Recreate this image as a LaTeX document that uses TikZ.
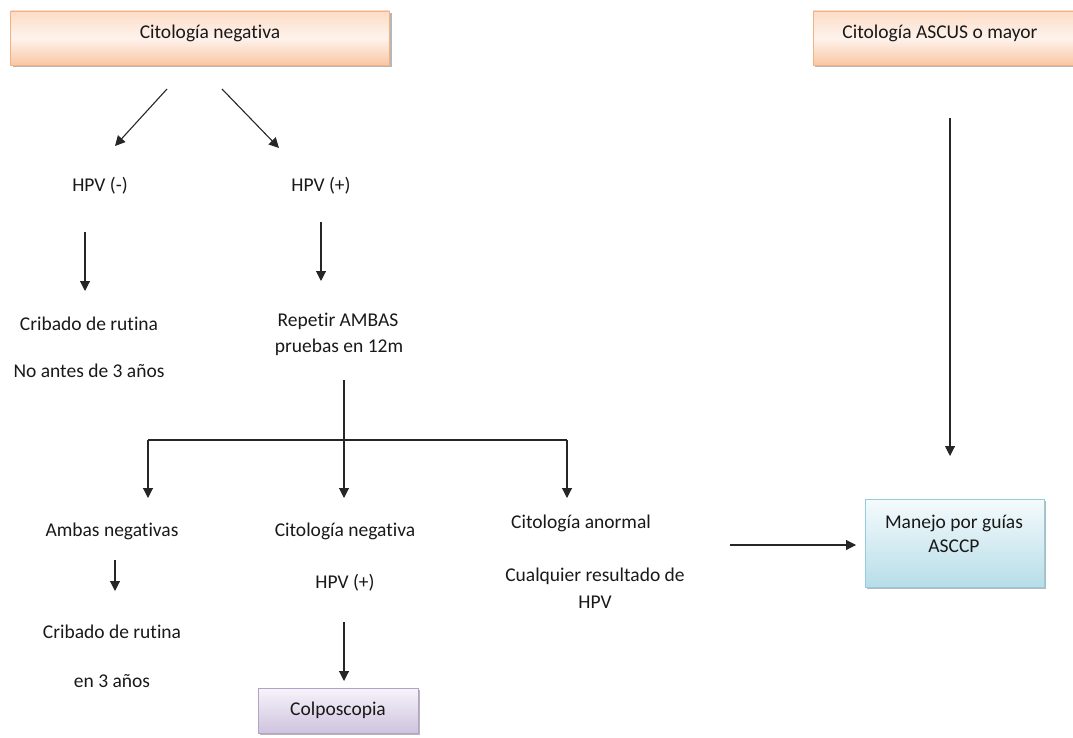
\documentclass[tikz,border=0pt]{standalone}
\usepackage{fontspec}
\setmainfont[Ligatures={NoCommon,NoRare,NoContextual}]{Carlito}
\usetikzlibrary{arrows.meta,shadows}
\definecolor{orbord}{HTML}{F4B183}
\definecolor{ortop}{HTML}{FCDCC6}
\definecolor{ormid}{HTML}{FEF3EC}
\definecolor{orbot}{HTML}{F9C7A4}
\definecolor{blbord}{HTML}{93CDDD}
\definecolor{bltop}{HTML}{F5FBFD}
\definecolor{blbot}{HTML}{B7DDE8}
\definecolor{pubord}{HTML}{B3A2C7}
\definecolor{putop}{HTML}{F7F3FB}
\definecolor{pubot}{HTML}{CFC3DE}
\tikzset{
  txt/.style={font=\fontsize{19.5}{23}\selectfont, inner sep=0pt, align=center, text=black!90},
  orbox/.style={txt, draw=orbord, line width=0.8pt, top color=ortop, bottom color=orbot, middle color=ormid, shading angle=0,
     drop shadow={shadow xshift=2pt, shadow yshift=-2pt, fill=black!40, opacity=0.7}},
  blbox/.style={txt, draw=blbord, line width=0.8pt, top color=bltop, bottom color=blbot,
     drop shadow={shadow xshift=2pt, shadow yshift=-2pt, fill=black!40, opacity=0.7}},
  pubox/.style={txt, draw=pubord, line width=0.8pt, top color=putop, bottom color=pubot,
     drop shadow={shadow xshift=2pt, shadow yshift=-2pt, fill=black!40, opacity=0.7}},
  arr/.style={line width=1.1pt, black!85, -{Triangle[length=10pt,width=10pt]}},
  ln/.style={line width=1.1pt, black!85},
}
\begin{document}
\begin{tikzpicture}[x=1pt,y=-1pt]
\useasboundingbox (0,0) rectangle (1073,738);
% boxes
\node[orbox, minimum width=379pt, minimum height=54pt] (cn) at (200,38) {};
\node[txt] at (210,33) {Citología negativa};
\node[orbox, minimum width=265pt, minimum height=54pt, anchor=west] (asc) at (813,38) {};
\node[txt] at (940,33) {Citología ASCUS o mayor};
\node[blbox, minimum width=179pt, minimum height=88pt] (mg) at (954.5,543) {};
\node[txt] at (954,523) {Manejo por guías};
\node[txt] at (954,546) {ASCCP};
\node[pubox, minimum width=160pt, minimum height=45pt] (col) at (338,710.5) {Colposcopia};
% texts
\node[txt] (hn) at (100,186) {HPV (-)};
\node[txt] (hp) at (321,186) {HPV (+)};
\node[txt] (cr1) at (89,324) {Cribado de rutina};
\node[txt] (na3) at (89,371) {No antes de 3 años};
\node[txt] (rep1) at (338,321) {Repetir AMBAS};
\node[txt] (rep2) at (339,347) {pruebas en 12m};
\node[txt] (amb) at (112,531) {Ambas negativas};
\node[txt] (cn2) at (345,531) {Citología negativa};
\node[txt] (hp2) at (345,583) {HPV (+)};
\node[txt] (ca) at (581,523) {Citología anormal};
\node[txt] (cu1) at (595,576) {Cualquier resultado de};
\node[txt] (cu2) at (595,602) {HPV};
\node[txt] (cr2) at (112,632) {Cribado de rutina};
\node[txt] (e3) at (112,681) {en 3 años};
% coordinates for connectors
\coordinate (a1s) at (167,89); \coordinate (a1e) at (115,146);
\coordinate (a2s) at (222,89); \coordinate (a2e) at (279,148);
\coordinate (a3s) at (85,232); \coordinate (a3e) at (85,291);
\coordinate (a4s) at (321,222); \coordinate (a4e) at (321,281);
\coordinate (vs) at (344,380); \coordinate (vj) at (344,440); \coordinate (ve) at (344,498);
\coordinate (lj) at (148,440); \coordinate (le) at (148,498);
\coordinate (rj) at (567,440); \coordinate (re) at (567,498);
\coordinate (b1s) at (115,560); \coordinate (b1e) at (115,591);
\coordinate (b2s) at (344,622); \coordinate (b2e) at (344,681);
\coordinate (hs) at (730,545); \coordinate (he) at (856,545);
\coordinate (ascs) at (950,118); \coordinate (asce) at (950,456);
\draw[arr] (a1s) -- (a1e);
\draw[arr] (a2s) -- (a2e);
\draw[arr] (a3s) -- (a3e);
\draw[arr] (a4s) -- (a4e);
\draw[arr] (vs) -- (ve);
\draw[ln] (lj) -- (rj);
\draw[arr] (lj) -- (le);
\draw[arr] (rj) -- (re);
\draw[arr] (b1s) -- (b1e);
\draw[arr] (b2s) -- (b2e);
\draw[arr] (hs) -- (he);
\draw[arr] (ascs) -- (asce);
\end{tikzpicture}
\end{document}
